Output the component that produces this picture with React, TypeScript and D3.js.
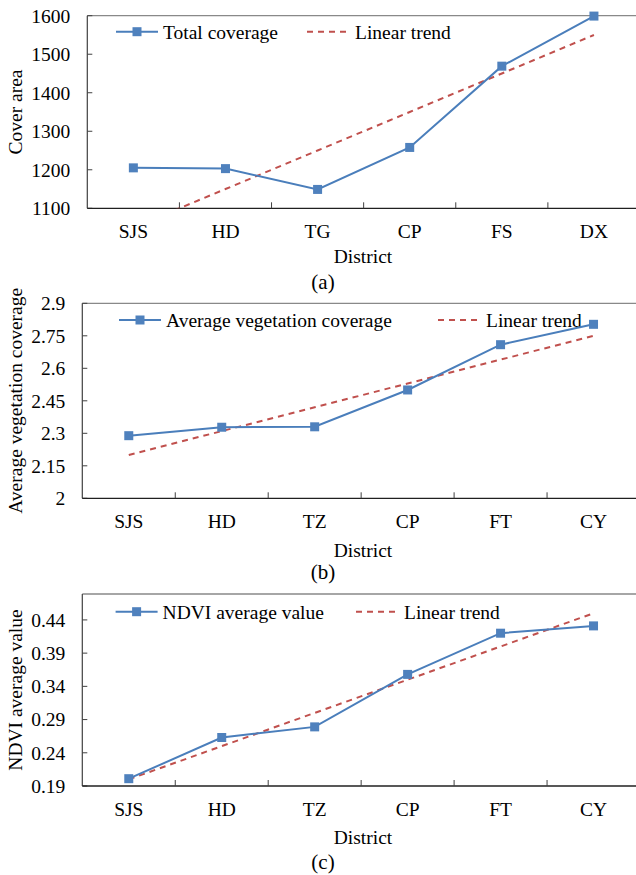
import { useEffect, useRef } from "react";
import * as d3 from "d3";

// panel (a)
const categoriesA = ["SJS", "HD", "TG", "CP", "FS", "DX"];
const totalCoverage = [1205, 1203, 1149, 1258, 1469, 1599];
const trendA = [1050, 1150, 1250, 1350, 1450, 1550];
const ticksA = [1100, 1200, 1300, 1400, 1500, 1600];

// panel (b)
const categoriesB = ["SJS", "HD", "TZ", "CP", "FT", "CY"];
const avgVegetation = [2.289, 2.328, 2.33, 2.5, 2.709, 2.803];
const trendB = [2.2, 2.31, 2.42, 2.53, 2.64, 2.75];
const ticksB = [2, 2.15, 2.3, 2.45, 2.6, 2.75, 2.9];

// panel (c)
const categoriesC = ["SJS", "HD", "TZ", "CP", "FT", "CY"];
const ndviAverage = [0.201, 0.263, 0.279, 0.358, 0.42, 0.431];
const trendC = [0.2, 0.25, 0.3, 0.35, 0.4, 0.45];
const ticksC = [0.19, 0.24, 0.29, 0.34, 0.39, 0.44];

const FONT = "'Liberation Serif', 'Times New Roman', serif";
const BLUE = "#4A7EBB";
const MARKER = "#4F81BD";
const RED = "#C0504D";
const M = 9; // marker size

interface Panel {
  id: string;
  categories: string[];
  values: number[];
  trend: number[];
  ticks: number[];
  domain: [number, number];
  yLabel: string;
  seriesName: string;
  caption: string;
  left: number;
  top: number;
  bottom: number;
  legendY: number;
  legendSeriesX: number;
  legendTrendX: number;
  catY: number;
  districtY: number;
  captionY: number;
}

const panels: Panel[] = [
  {
    id: "a",
    categories: categoriesA,
    values: totalCoverage,
    trend: trendA,
    ticks: ticksA,
    domain: [1100, 1600],
    yLabel: "Cover area",
    seriesName: "Total coverage",
    caption: "(a)",
    left: 87.3,
    top: 15.7,
    bottom: 208.3,
    legendY: 31.7,
    legendSeriesX: 116,
    legendTrendX: 307,
    catY: 238,
    districtY: 263,
    captionY: 289,
  },
  {
    id: "b",
    categories: categoriesB,
    values: avgVegetation,
    trend: trendB,
    ticks: ticksB,
    domain: [2, 2.9],
    yLabel: "Average vegetation coverage",
    seriesName: "Average vegetation coverage",
    caption: "(b)",
    left: 82.3,
    top: 303.3,
    bottom: 498.3,
    legendY: 320,
    legendSeriesX: 119,
    legendTrendX: 438,
    catY: 528,
    districtY: 557,
    captionY: 579,
  },
  {
    id: "c",
    categories: categoriesC,
    values: ndviAverage,
    trend: trendC,
    ticks: ticksC,
    domain: [0.19, 0.479],
    yLabel: "NDVI average value",
    seriesName: "NDVI average value",
    caption: "(c)",
    left: 82.3,
    top: 594,
    bottom: 786,
    legendY: 611.7,
    legendSeriesX: 115.6,
    legendTrendX: 356,
    catY: 816,
    districtY: 844,
    captionY: 869,
  },
];

const width = 636;
const height = 875;
const right = 640;

const App = () => {
  const svgRef = useRef<SVGSVGElement | null>(null);

  useEffect(() => {
    document.body.style.margin = "0";
    const svg = d3.select(svgRef.current);
    svg.selectAll("*").remove();
    svg.attr("width", width).attr("height", height).style("background", "white");

    panels.forEach((p) => {
      const g = svg.append("g").style("font-family", FONT).style("font-size", "19.5px");

      const x = d3
        .scaleBand()
        .domain(p.categories)
        .range([p.left, right])
        .padding(0);
      const cx = (c: string) => (x(c) ?? 0) + x.bandwidth() / 2;
      const y = d3.scaleLinear().domain(p.domain).range([p.bottom, p.top]);

      // clip for the trend line
      g.append("clipPath")
        .attr("id", `clip-${p.id}`)
        .append("rect")
        .attr("x", p.left)
        .attr("y", p.top)
        .attr("width", right - p.left)
        .attr("height", p.bottom - p.top);

      // top border
      g.append("line")
        .attr("x1", p.left)
        .attr("x2", right)
        .attr("y1", p.top)
        .attr("y2", p.top)
        .attr("stroke", "#898989")
        .attr("stroke-width", 1.3);

      // y axis
      g.append("line")
        .attr("x1", p.left)
        .attr("x2", p.left)
        .attr("y1", p.top)
        .attr("y2", p.bottom)
        .attr("stroke", "#404040")
        .attr("stroke-width", 1.2);
      g.selectAll(".ytick")
        .data(p.ticks)
        .join("line")
        .attr("x1", p.left)
        .attr("x2", p.left + 5)
        .attr("y1", (d) => y(d))
        .attr("y2", (d) => y(d))
        .attr("stroke", "#404040");
      g.selectAll(".ylab")
        .data(p.ticks)
        .join("text")
        .attr("x", p.left - 17)
        .attr("y", (d) => y(d))
        .attr("dy", "0.35em")
        .attr("text-anchor", "end")
        .attr("fill", "#000")
        .text((d) => `${d}`);

      // x axis
      g.append("line")
        .attr("x1", p.left)
        .attr("x2", right)
        .attr("y1", p.bottom)
        .attr("y2", p.bottom)
        .attr("stroke", "#202020")
        .attr("stroke-width", 1.3);
      g.selectAll(".xtick")
        .data(p.categories.slice(1))
        .join("line")
        .attr("x1", (d) => x(d) ?? 0)
        .attr("x2", (d) => x(d) ?? 0)
        .attr("y1", p.bottom)
        .attr("y2", p.bottom - 6)
        .attr("stroke", "#404040");
      g.selectAll(".xlab")
        .data(p.categories)
        .join("text")
        .attr("x", (d) => cx(d))
        .attr("y", p.catY)
        .attr("text-anchor", "middle")
        .text((d) => d);

      // axis titles
      g.append("text")
        .attr("x", 363)
        .attr("y", p.districtY)
        .attr("text-anchor", "middle")
        .text("District");
      g.append("text")
        .attr("transform", `translate(15.5,${(p.top + p.bottom) / 2}) rotate(-90)`)
        .attr("dy", "0.35em")
        .attr("text-anchor", "middle")
        .text(p.yLabel);
      g.append("text")
        .attr("x", 323)
        .attr("y", p.captionY)
        .attr("text-anchor", "middle")
        .style("font-size", "21px")
        .text(p.caption);

      // legend
      g.append("line")
        .attr("x1", p.legendSeriesX)
        .attr("x2", p.legendSeriesX + 42)
        .attr("y1", p.legendY)
        .attr("y2", p.legendY)
        .attr("stroke", BLUE)
        .attr("stroke-width", 2);
      g.append("rect")
        .attr("x", p.legendSeriesX + 21 - M / 2)
        .attr("y", p.legendY - M / 2)
        .attr("width", M)
        .attr("height", M)
        .attr("fill", MARKER);
      g.append("text")
        .attr("x", p.legendSeriesX + 47)
        .attr("y", p.legendY)
        .attr("dy", "0.35em")
        .text(p.seriesName);
      g.append("line")
        .attr("x1", p.legendTrendX)
        .attr("x2", p.legendTrendX + 42)
        .attr("y1", p.legendY)
        .attr("y2", p.legendY)
        .attr("stroke", RED)
        .attr("stroke-width", 2)
        .attr("stroke-dasharray", "6,5");
      g.append("text")
        .attr("x", p.legendTrendX + 48)
        .attr("y", p.legendY)
        .attr("dy", "0.35em")
        .text("Linear trend");

      // trend line
      const line = d3
        .line<number>()
        .x((_, i) => cx(p.categories[i]))
        .y((d) => y(d));
      g.append("path")
        .attr("clip-path", `url(#clip-${p.id})`)
        .attr("d", line(p.trend))
        .attr("fill", "none")
        .attr("stroke", RED)
        .attr("stroke-width", 2)
        .attr("stroke-dasharray", "6,5");

      // series
      g.append("path")
        .attr("d", line(p.values))
        .attr("fill", "none")
        .attr("stroke", BLUE)
        .attr("stroke-width", 2);
      g.selectAll(".marker")
        .data(p.values)
        .join("rect")
        .attr("x", (_, i) => cx(p.categories[i]) - M / 2)
        .attr("y", (d) => y(d) - M / 2)
        .attr("width", M)
        .attr("height", M)
        .attr("fill", MARKER);
    });
  }, []);

  return <svg ref={svgRef} style={{ display: "block" }}></svg>;
};

export default App;
